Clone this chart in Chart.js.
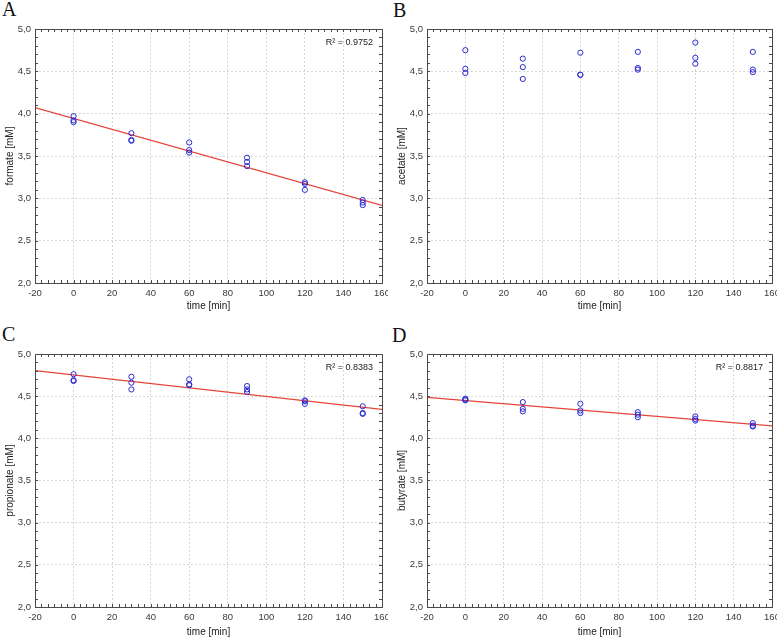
<!DOCTYPE html>
<html>
<head>
<meta charset="utf-8">
<script src="https://cdn.jsdelivr.net/npm/chart.js@4.4.0/dist/chart.umd.min.js"></script>
<style>
  html, body { margin: 0; padding: 0; background: #fff; }
  #wrap { position: relative; width: 777px; height: 640px; overflow: hidden; }
  canvas { position: absolute; }
  .letter { position: absolute; font-family: "Liberation Serif", "Times New Roman", serif; font-size: 20px; line-height: 1; color: #111; }
</style>
</head>
<body>
<div id="wrap">
  <div class="letter" style="left:2px;top:-1px">A</div>
  <div class="letter" style="left:393px;top:0px">B</div>
  <div class="letter" style="left:2px;top:324px">C</div>
  <div class="letter" style="left:392px;top:325px">D</div>
  <canvas id="cA" width="388" height="320" style="left:0;top:0"></canvas>
  <canvas id="cB" width="385" height="320" style="left:392px;top:0"></canvas>
  <canvas id="cC" width="388" height="320" style="left:0;top:320px"></canvas>
  <canvas id="cD" width="385" height="320" style="left:392px;top:320px"></canvas>
</div>
<script>
// ── data ──────────────────────────────────────────────────────────────────
const TIMES = [0, 0, 0, 30, 30, 30, 60, 60, 60, 90, 90, 90, 120, 120, 120, 150, 150, 150];
const FORMATE = [3.97, 3.92, 3.90, 3.77, 3.69, 3.68, 3.66, 3.57, 3.54, 3.48, 3.43, 3.38, 3.19, 3.17, 3.10, 2.98, 2.95, 2.92];
const ACETATE = [4.75, 4.53, 4.48, 4.65, 4.55, 4.41, 4.72, 4.46, 4.46, 4.73, 4.54, 4.52, 4.84, 4.66, 4.59, 4.73, 4.52, 4.49];
const PROPIONATE = [4.76, 4.69, 4.68, 4.73, 4.66, 4.58, 4.70, 4.64, 4.63, 4.62, 4.58, 4.55, 4.45, 4.44, 4.41, 4.38, 4.30, 4.29];
const BUTYRATE = [4.47, 4.46, 4.45, 4.43, 4.35, 4.32, 4.41, 4.33, 4.30, 4.31, 4.28, 4.25, 4.26, 4.23, 4.21, 4.18, 4.15, 4.14];

const X_TICKS = [-20, 0, 20, 40, 60, 80, 100, 120, 140, 160];
const Y_TICKS = [2.0, 2.5, 3.0, 3.5, 4.0, 4.5, 5.0];
const X_TITLE = 'time [min]';
const Y_TITLES = ['formate [mM]', 'acetate [mM]', 'propionate [mM]', 'butyrate [mM]'];
const R2_LABELS = ['R\u00b2 = 0.9752', null, 'R\u00b2 = 0.8383', 'R\u00b2 = 0.8817'];

const X_MIN = X_TICKS[0], X_MAX = X_TICKS[X_TICKS.length - 1];
const Y_MIN = Y_TICKS[0], Y_MAX = Y_TICKS[Y_TICKS.length - 1];

// least squares fit through the measured points
function linFit(xs, ys) {
  const n = xs.length;
  const mx = xs.reduce((a, b) => a + b, 0) / n;
  const my = ys.reduce((a, b) => a + b, 0) / n;
  let sxy = 0, sxx = 0;
  for (let i = 0; i < n; i++) {
    sxy += (xs[i] - mx) * (ys[i] - my);
    sxx += (xs[i] - mx) * (xs[i] - mx);
  }
  const b = sxy / sxx;
  return x => my + b * (x - mx);
}

// box, inner minor ticks and R² note
const framePlugin = {
  id: 'frame',
  afterDraw(chart) {
    const { ctx, chartArea: a, scales } = chart;
    ctx.save();
    ctx.strokeStyle = '#4a4a4a';
    ctx.lineWidth = 1;
    ctx.strokeRect(Math.round(a.left) + 0.5, Math.round(a.top) + 0.5, Math.round(a.right - a.left), Math.round(a.bottom - a.top));
    ctx.beginPath();
    const xs = (X_TICKS[1] - X_TICKS[0]) / 6;
    for (let v = X_MIN + xs; v < X_MAX - 0.01; v += xs) {
      const px = Math.round(scales.x.getPixelForValue(v)) + 0.5;
      ctx.moveTo(px, a.top); ctx.lineTo(px, a.top + 3);
      ctx.moveTo(px, a.bottom); ctx.lineTo(px, a.bottom - 3);
    }
    const ys = (Y_TICKS[1] - Y_TICKS[0]) / 5;
    for (let v = Y_MIN + ys; v < Y_MAX - 0.01; v += ys) {
      const py = Math.round(scales.y.getPixelForValue(v)) + 0.5;
      ctx.moveTo(a.left, py); ctx.lineTo(a.left + 3, py);
      ctx.moveTo(a.right, py); ctx.lineTo(a.right - 3, py);
    }
    ctx.stroke();
    const note = chart.options.plugins.frame.note;
    if (note) {
      ctx.fillStyle = '#222';
      ctx.font = '9px "Liberation Sans", Arial, sans-serif';
      ctx.textAlign = 'right';
      ctx.textBaseline = 'middle';
      ctx.fillText(note, a.right - 9, a.top + 14);
    }
    ctx.restore();
  },
};

const TICK_FONT = { family: '"Liberation Sans", Arial, sans-serif', size: 9.5 };
const TITLE_FONT = { family: '"Liberation Sans", Arial, sans-serif', size: 10 };

function makePanel(id, values, yTitle, note, withFit, top, right, xHeight, titleBottom) {
  const pts = TIMES.map((t, i) => ({ x: t, y: values[i] }));
  const datasets = [{
    type: 'scatter',
    data: pts,
    pointStyle: 'circle',
    pointRadius: 2.6,
    pointBorderWidth: 1,
    pointBorderColor: '#2a2ad2',
    pointBackgroundColor: 'rgba(0,0,0,0)',
    order: 0,
  }];
  if (withFit) {
    const f = linFit(TIMES, values);
    datasets.push({
      type: 'line',
      data: [{ x: X_MIN, y: f(X_MIN) }, { x: X_MAX, y: f(X_MAX) }],
      borderColor: '#e4443a',
      borderWidth: 1.2,
      pointRadius: 0,
      order: 1,
    });
  }
  new Chart(document.getElementById(id), {
    data: { datasets },
    plugins: [framePlugin],
    options: {
      responsive: false,
      animation: false,
      layout: { padding: { top: top, right: right, bottom: 0, left: 0 } },
      plugins: {
        legend: { display: false },
        tooltip: { enabled: false },
        frame: { note },
      },
      scales: {
        x: {
          type: 'linear', min: X_MIN, max: X_MAX,
          afterBuildTicks: s => { s.ticks = X_TICKS.map(v => ({ value: v })); },
          afterFit: s => { s.height = xHeight; s.paddingLeft = 0; s.paddingRight = 0; },
          ticks: { font: TICK_FONT, color: '#3a3a3a', padding: 5, maxRotation: 0, autoSkip: false },
          grid: { color: '#d6d6d6', drawTicks: false },
          border: { display: false, dash: [2, 2] },
          title: { display: true, text: X_TITLE, font: TITLE_FONT, color: '#222', padding: { top: 0, bottom: titleBottom } },
        },
        y: {
          type: 'linear', min: Y_MIN, max: Y_MAX,
          afterBuildTicks: s => { s.ticks = Y_TICKS.map(v => ({ value: v })); },
          afterFit: s => { s.width = 35; },
          ticks: { font: TICK_FONT, color: '#3a3a3a', padding: 4, callback: v => v.toFixed(1).replace('.', ',') },
          grid: { color: '#d6d6d6', drawTicks: false },
          border: { display: false, dash: [2, 2] },
          title: { display: true, text: yTitle, font: TITLE_FONT, color: '#222', padding: { top: 4, bottom: 0 } },
        },
      },
    },
  });
}

makePanel('cA', FORMATE, Y_TITLES[0], R2_LABELS[0], true, 29, 6, 37, 8);
makePanel('cB', ACETATE, Y_TITLES[1], R2_LABELS[1], false, 29, 3, 37, 8);
makePanel('cC', PROPIONATE, Y_TITLES[2], R2_LABELS[2], true, 34, 6, 33, 2);
makePanel('cD', BUTYRATE, Y_TITLES[3], R2_LABELS[3], true, 34, 3, 33, 2);
</script>
</body>
</html>
